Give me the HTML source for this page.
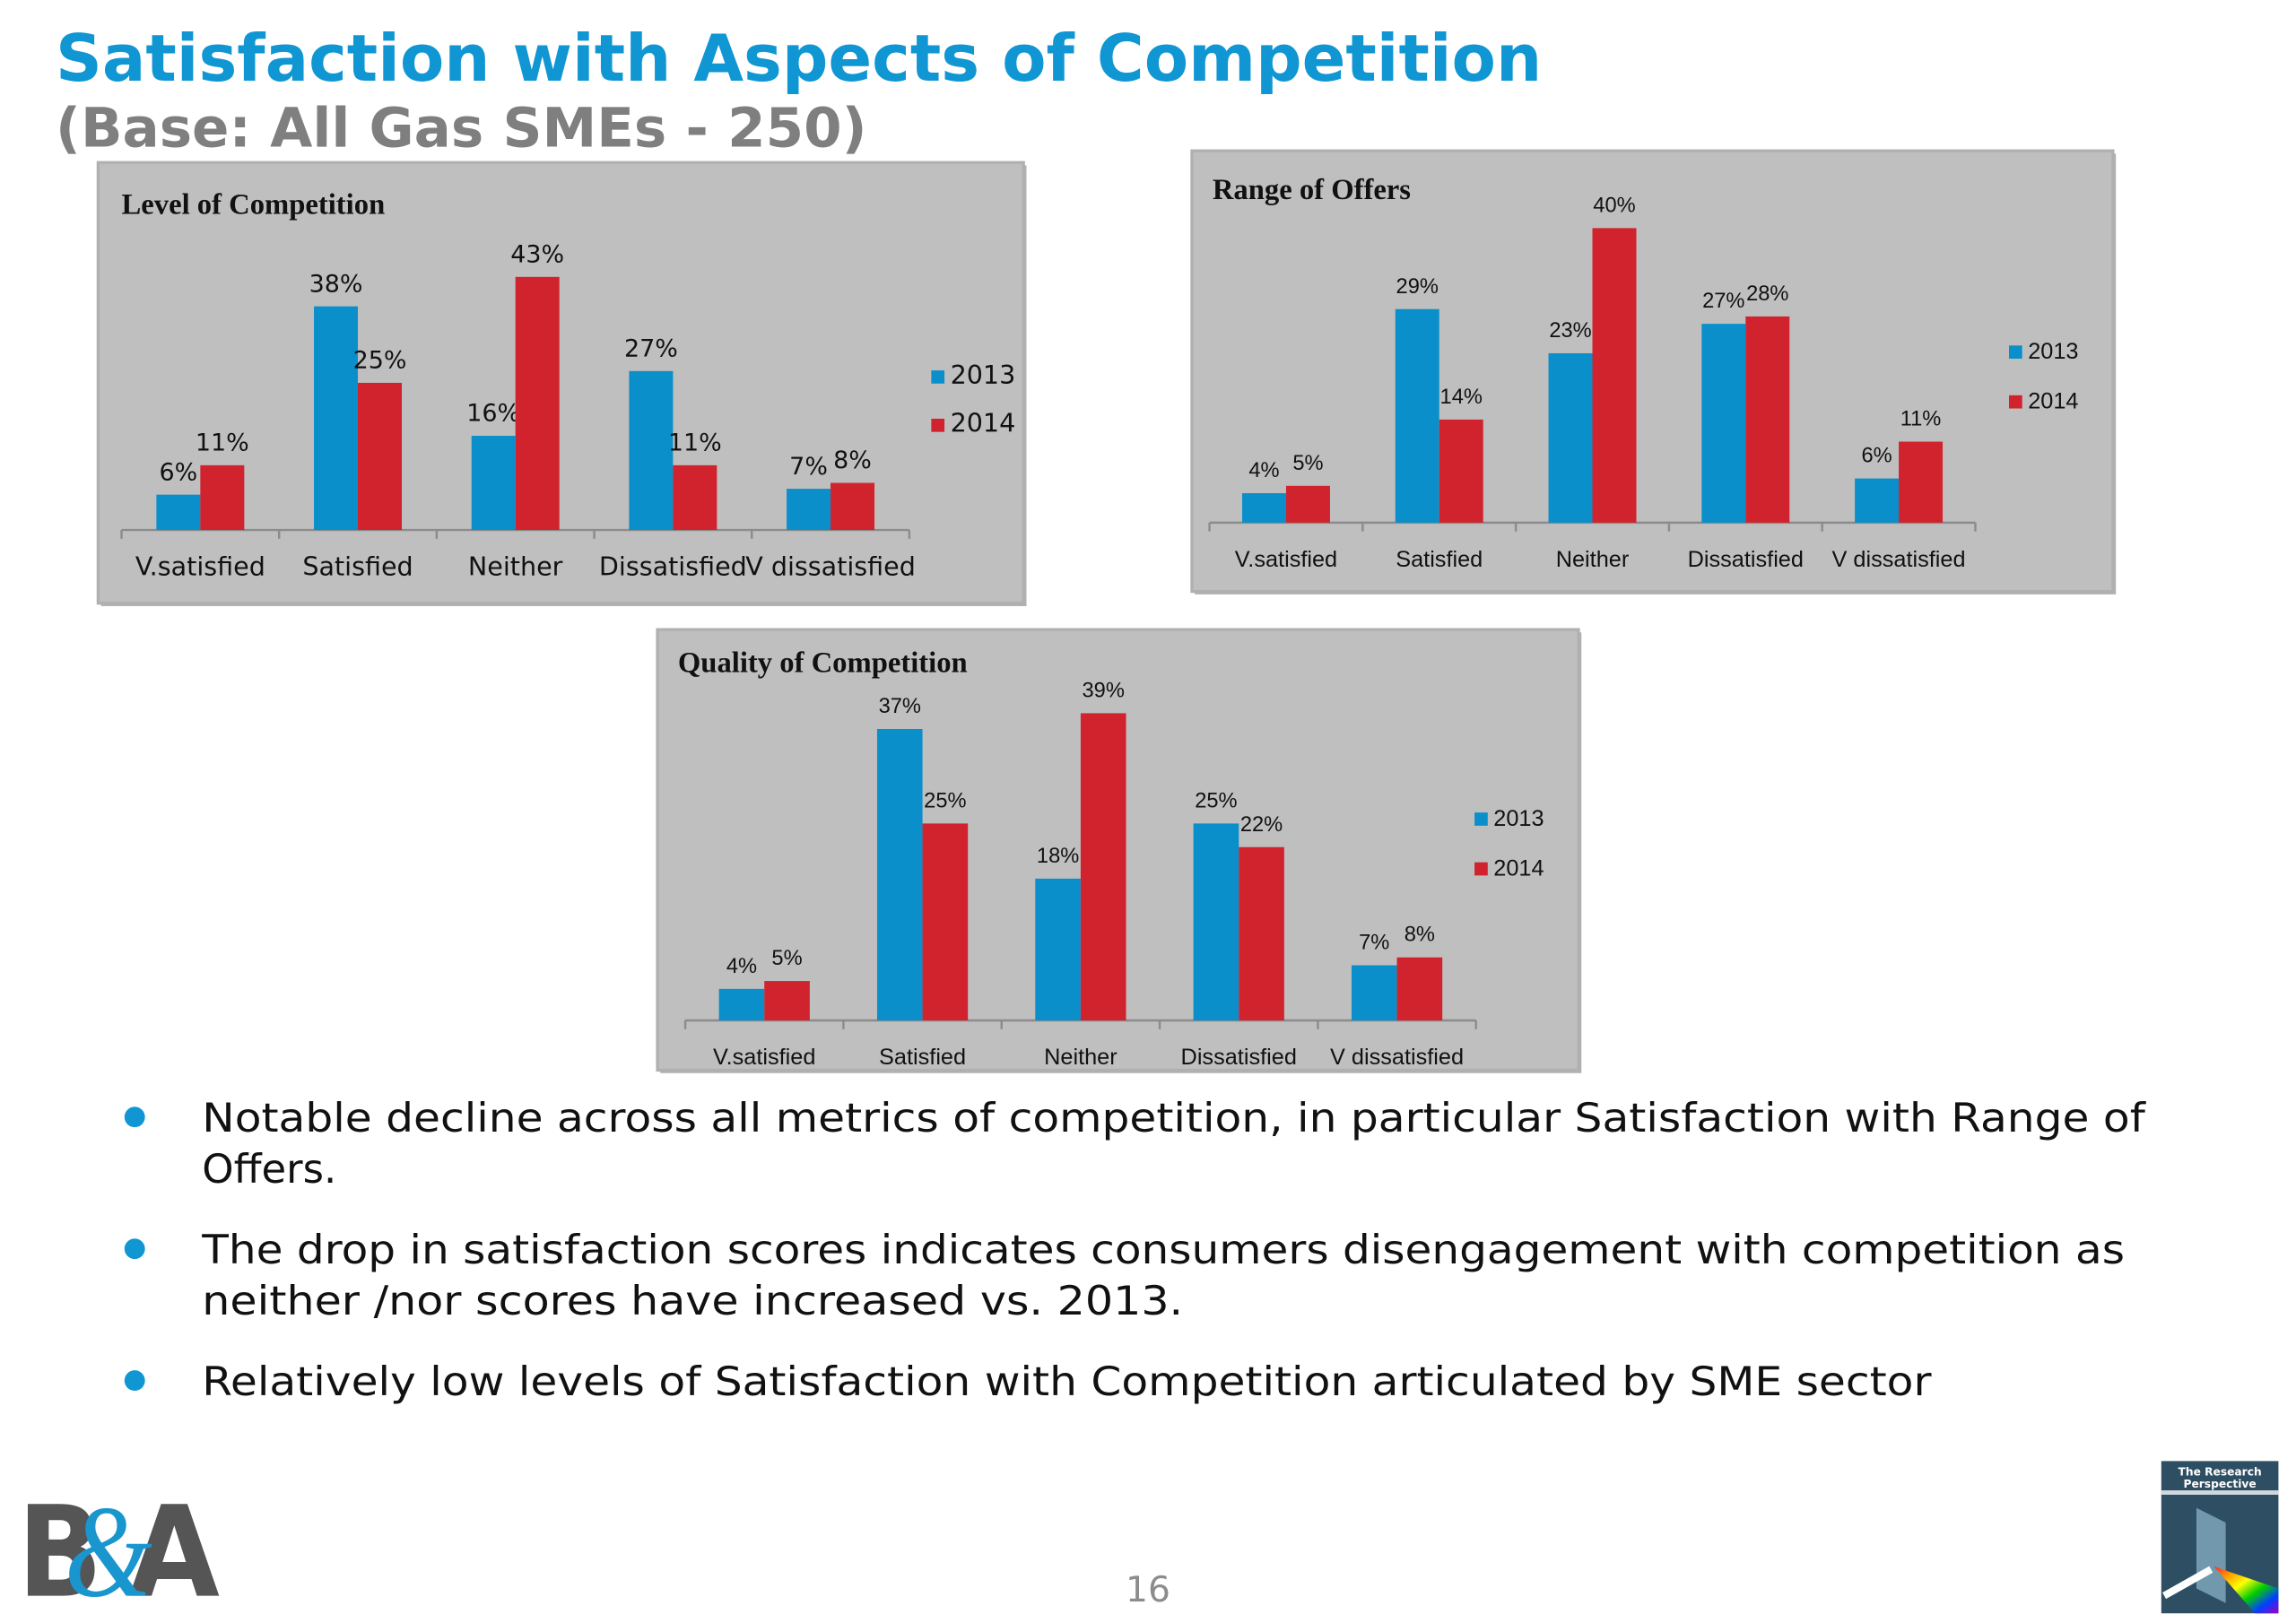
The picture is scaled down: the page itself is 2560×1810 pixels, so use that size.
<!DOCTYPE html>
<html><head><meta charset="utf-8"><style>html,body{margin:0;padding:0;background:#fff;}svg{display:block;}</style></head>
<body>
<svg id="root" xmlns="http://www.w3.org/2000/svg" width="2560" height="1810" viewBox="0 0 1568 1108.6">
<defs>
<linearGradient id="rb" x1="0" y1="0" x2="1" y2="1">
<stop offset="0" stop-color="#ff2020"/><stop offset="0.2" stop-color="#ff9900"/><stop offset="0.4" stop-color="#ffff00"/><stop offset="0.6" stop-color="#00cc00"/><stop offset="0.8" stop-color="#0040ff"/><stop offset="1" stop-color="#a000c0"/>
</linearGradient>
</defs>
<rect x="0" y="0" width="1568" height="1108.6" fill="#fff"/>
<text x="38" y="55" font-family="DejaVu Sans, sans-serif" font-weight="bold" font-size="44" fill="#0f96d3" textLength="1015" lengthAdjust="spacingAndGlyphs">Satisfaction with Aspects of Competition</text>
<text x="38" y="100" font-family="DejaVu Sans, sans-serif" font-weight="bold" font-size="37" fill="#7f7f7f" textLength="554" lengthAdjust="spacingAndGlyphs">(Base: All Gas SMEs - 250)</text>
<g id="charts"></g>
<g font-family="DejaVu Sans, sans-serif" font-size="27.5" fill="#111">
<circle cx="92" cy="763" r="7" fill="#0f96d3"/>
<text x="138" y="773" textLength="1327" lengthAdjust="spacingAndGlyphs">Notable decline across all metrics of competition, in particular Satisfaction with Range of</text>
<text x="138" y="808">Offers.</text>
<circle cx="92" cy="853" r="7" fill="#0f96d3"/>
<text x="138" y="863" textLength="1313" lengthAdjust="spacingAndGlyphs">The drop in satisfaction scores indicates consumers disengagement with competition as</text>
<text x="138" y="898" textLength="670" lengthAdjust="spacingAndGlyphs">neither /nor scores have increased vs. 2013.</text>
<circle cx="92" cy="943" r="7" fill="#0f96d3"/>
<text x="138" y="953" textLength="1181" lengthAdjust="spacingAndGlyphs">Relatively low levels of Satisfaction with Competition articulated by SME sector</text>
</g>
<text x="784" y="1094" text-anchor="middle" font-family="DejaVu Sans, sans-serif" font-size="24" fill="#8c8c8c">16</text>
<g>
<text x="12" y="1090" font-family="DejaVu Sans, sans-serif" font-weight="bold" font-size="86" fill="#555" textLength="58" lengthAdjust="spacingAndGlyphs">B</text>
<text x="88" y="1090" font-family="DejaVu Sans, sans-serif" font-weight="bold" font-size="86" fill="#555" textLength="62" lengthAdjust="spacingAndGlyphs">A</text>
<text x="44" y="1090" font-family="Liberation Serif, serif" font-style="italic" font-size="90" fill="#1a96cf" textLength="60" lengthAdjust="spacingAndGlyphs">&amp;</text>
</g>
<g>
<rect x="1476" y="998" width="80" height="104" fill="#2e4e63"/>
<rect x="1476" y="1018" width="80" height="3" fill="#cfd8de"/>
<text x="1516" y="1008" text-anchor="middle" font-family="DejaVu Sans, sans-serif" font-weight="bold" font-size="7.5" fill="#fff">The Research</text>
<text x="1516" y="1016" text-anchor="middle" font-family="DejaVu Sans, sans-serif" font-weight="bold" font-size="7.5" fill="#fff">Perspective</text>
<polygon points="1500,1030 1520,1040 1520,1095 1500,1085" fill="#8fb8cc" opacity="0.7"/>
<line x1="1478" y1="1090" x2="1510" y2="1072" stroke="#fff" stroke-width="5"/>
<polygon points="1512,1070 1556,1085 1556,1102 1540,1102" fill="url(#rb)"/>
</g>
</svg>
<script>
// Chart 1: Level of Competition
var cats1 = ["V.satisfied","Satisfied","Neither","Dissatisfied","V dissatisfied"];
var s2013_1 = [6,38,16,27,7];
var s2014_1 = [11,25,43,11,8];
// Chart 2: Range of Offers
var cats2 = ["V.satisfied","Satisfied","Neither","Dissatisfied","V dissatisfied"];
var s2013_2 = [4,29,23,27,6];
var s2014_2 = [5,14,40,28,11];
// Chart 3: Quality of Competition
var cats3 = ["V.satisfied","Satisfied","Neither","Dissatisfied","V dissatisfied"];
var s2013_3 = [4,37,18,25,7];
var s2014_3 = [5,25,39,22,8];
var legendLabels = ["2013","2014"];

var NS = "http://www.w3.org/2000/svg";
function mk(tag, attrs, parent){ var e=document.createElementNS(NS,tag); for(var k in attrs) e.setAttribute(k,attrs[k]); parent.appendChild(e); return e; }

function drawChart(cfg, cats, a, b){
  var root = document.getElementById('charts');
  var g = mk('g',{},root);
  
  
  var sh = mk('rect',{x:cfg.bx+2,y:cfg.by+2,width:cfg.bw,height:cfg.bh,fill:"#b0b0b0"},g);
  
  
  var bg = mk('rect',{x:cfg.bx,y:cfg.by,width:cfg.bw,height:cfg.bh,fill:"#bfbfbf",stroke:"#b0b0b0","stroke-width":2},g);
  
  
  var t = mk('text',{x:cfg.tx,y:cfg.ty,"font-family":"Liberation Serif, serif","font-weight":"bold","font-size":cfg.tfs,fill:"#111"},g);
  t.textContent = cfg.title;
  
  
  var gw = (cfg.x1-cfg.x0)/cats.length;
  function xC(i){ return cfg.x0 + gw*(i+0.5); }
  function yV(v){ return cfg.base - v*cfg.k; }
  var ax = mk('line',{x1:cfg.x0,y1:cfg.base,x2:cfg.x1,y2:cfg.base,stroke:"#8c8c8c","stroke-width":1.5},g);
  
  
  for (var i=0;i<=cats.length;i++){
    var tk = mk('line',{x1:cfg.x0+gw*i,y1:cfg.base,x2:cfg.x0+gw*i,y2:cfg.base+6,stroke:"#8c8c8c","stroke-width":1.5},g);
    
    
  }
  var series=[a,b], colors=["#0a8fcb","#d0232d"];
  for (var i=0;i<cats.length;i++){
    var c = xC(i);
    for (var s=0;s<2;s++){
      var v = series[s][i];
      var x = s===0 ? c-cfg.bwid : c;
      var r = mk('rect',{x:x,y:yV(v),width:cfg.bwid,height:v*cfg.k,fill:colors[s]},g);
      
      
      var lb = mk('text',{x:x+cfg.bwid/2,y:yV(v)-cfg.lgap,"text-anchor":"middle","font-family":cfg.ff,"font-size":cfg.lfs,fill:"#111"},g);
      lb.textContent = v+"%";
      
      
    }
    var cl = mk('text',{x:c,y:cfg.cy,"text-anchor":"middle","font-family":cfg.ff,"font-size":cfg.cfs,fill:"#111"},g);
    cl.textContent = cats[i];
    
    
  }
  for (var s=0;s<2;s++){
    var ly = cfg.ly + s*cfg.lstep;
    var sq = mk('rect',{x:cfg.lx,y:ly-cfg.sq,width:cfg.sq,height:cfg.sq,fill:colors[s]},g);
    
    
    var lt = mk('text',{x:cfg.lx+cfg.sq+4,y:ly,"font-family":cfg.ff,"font-size":cfg.cfs,fill:"#111"},g);
    lt.textContent = legendLabels[s];
    
    
  }
}

drawChart({name:"level-of-competition-chart",title:"Level of Competition",bx:67,by:111,bw:632,bh:301,tx:83,ty:146,tfs:20,
  x0:83,x1:621,base:362,k:4.02,bwid:30,ff:"DejaVu Sans, sans-serif",lfs:16.5,lgap:10,cfs:17.5,cy:393,lx:636,ly:262,lstep:33,sq:9},
  cats1,s2013_1,s2014_1);
drawChart({name:"range-of-offers-chart",title:"Range of Offers",bx:814,by:103,bw:629,bh:301,tx:828,ty:136,tfs:20,
  x0:826,x1:1349,base:357,k:5.03,bwid:30,ff:"Liberation Sans, sans-serif",lfs:14.5,lgap:11,cfs:15.5,cy:387,lx:1372,ly:245,lstep:34,sq:9},
  cats2,s2013_2,s2014_2);
drawChart({name:"quality-of-competition-chart",title:"Quality of Competition",bx:449,by:430,bw:629,bh:301,tx:463,ty:459,tfs:20,
  x0:468,x1:1008,base:697,k:5.38,bwid:31,ff:"Liberation Sans, sans-serif",lfs:14.5,lgap:11,cfs:15.5,cy:727,lx:1007,ly:564,lstep:34,sq:9},
  cats3,s2013_3,s2014_3);
</script>
</body></html>
